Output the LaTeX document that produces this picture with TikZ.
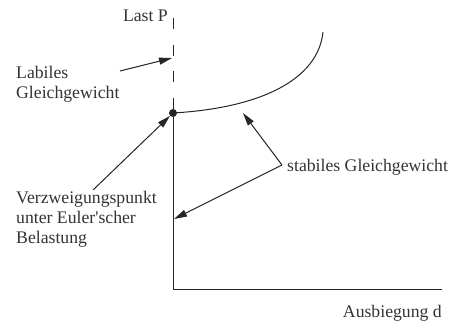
\documentclass[tikz,border=0pt]{standalone}
\usepackage{fontspec}
\setmainfont{Liberation Serif}
\usetikzlibrary{arrows.meta}
\begin{document}
\begin{tikzpicture}[x=1pt,y=-1pt,
  lbl/.style={inner sep=0pt, align=left, font=\fontsize{17.7}{20}\selectfont, text=black!80},
  ln/.style={draw=black!85, line width=1pt},
  arr/.style={ln, -{Triangle[length=13pt,width=7pt]}},
]
\useasboundingbox (0,0) rectangle (459,325);
% axes and curve
\coordinate (top) at (173,18);
\node[circle, fill=black!85, inner sep=0pt, minimum size=8pt] (dot) at (173,113) {};
\coordinate (orig) at (173,289);
\coordinate (xend) at (442,289);
\coordinate (cend) at (323,32);
\draw[ln, dash pattern=on 11pt off 15.5pt] (top) -- (dot.center);
\draw[ln] (dot.center) -- (orig) -- (xend);
\draw[ln] (dot.center) .. controls (260,108) and (318,80) .. (cend);
% labels
\node[lbl, anchor=base east] (last) at (168,21) {Last P};
\node[lbl, anchor=base west] (lab) at (16,98) {Labiles\\Gleichgewicht};
\node[lbl, anchor=base west] (verz) at (16,243) {Verzweigungspunkt\\unter Euler\textquotesingle scher\\Belastung};
\node[lbl, anchor=base west] (stab) at (287,171) {stabiles Gleichgewicht};
\node[lbl, anchor=base east] (ausb) at (442,317) {Ausbiegung d};
% connectors
\coordinate (labstart) at (120,71);
\coordinate (labtip) at (172,58);
\draw[arr] (labstart) -- (labtip);
\coordinate (verzstart) at (93,190);
\draw[arr] (verzstart) -- (dot);
\coordinate (stabv) at (282,165);
\coordinate (curvept) at (243,113);
\coordinate (axpt) at (174,219);
\draw[arr] (stabv) -- (curvept);
\draw[arr] (stabv) -- (axpt);
\end{tikzpicture}
\end{document}
